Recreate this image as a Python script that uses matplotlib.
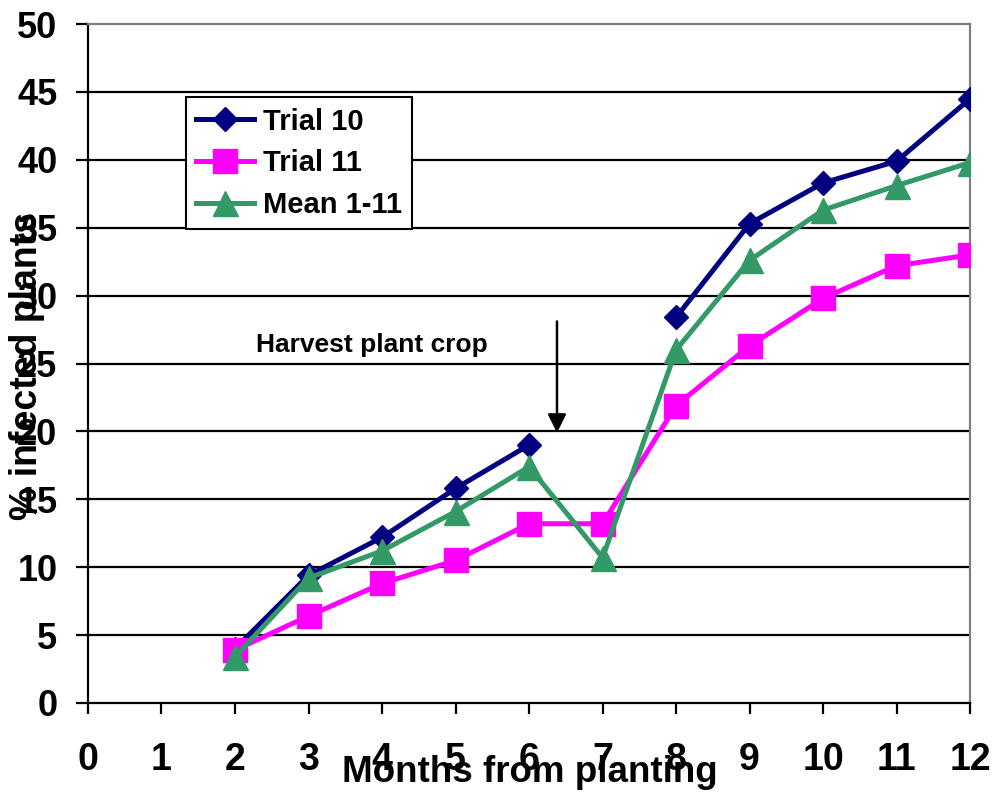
import numpy as np
import matplotlib
matplotlib.use('Agg')
import matplotlib.pyplot as plt

plt.rcParams['font.family'] = ['Liberation Sans', 'DejaVu Sans']
plt.rcParams['font.weight'] = 'bold'

# Data
months = [2, 3, 4, 5, 6, 7, 8, 9, 10, 11, 12]
trial_10 = [4.0, 9.4, 12.2, 15.8, 19.0, np.nan, 28.4, 35.3, 38.3, 39.9, 44.5]
trial_11 = [3.9, 6.4, 8.8, 10.5, 13.2, 13.2, 21.9, 26.3, 29.8, 32.2, 33.0]
mean_1_11 = [3.4, 9.2, 11.2, 14.1, 17.4, 10.7, 26.0, 32.6, 36.3, 38.1, 39.8]

x_ticks = list(range(0, 13))
y_ticks = list(range(0, 55, 5))

fig = plt.figure(figsize=(9.94, 7.93), dpi=100)
ax = fig.add_axes([0.0885, 0.1135, 0.8875, 0.8562])

# Grid
for y in y_ticks[1:-1]:
    ax.axhline(y, color='black', linewidth=1.6, zorder=1)

ax.plot(months, trial_10, color='#000080', linewidth=3.6, marker='D',
        markersize=12, label='Trial 10', zorder=3)
ax.plot(months, trial_11, color='#FF00FF', linewidth=3.6, marker='s',
        markersize=17, label='Trial 11', zorder=3)
ax.plot(months, mean_1_11, color='#339966', linewidth=3.6, marker='^',
        markersize=18, label='Mean 1-11', zorder=4)

# Annotation
ax.annotate('', xy=(6.38, 19.9), xytext=(6.38, 28.1),
            arrowprops=dict(arrowstyle='-|>', color='black', lw=1.8,
                            mutation_scale=28, shrinkA=0, shrinkB=0))
ax.text(2.29, 26.4, 'Harvest plant crop', fontsize=19, fontweight='bold',
        va='center', ha='left')

ax.set_xlim(0, 12)
ax.set_ylim(0, 50)
ax.set_xticks(x_ticks)
ax.set_yticks(y_ticks)
ax.tick_params(axis='y', direction='out', length=9, width=1.6,
               labelsize=26, pad=13)
ax.tick_params(axis='x', direction='out', length=8, width=1.6,
               labelsize=27, pad=20)
for lab in ax.get_xticklabels() + ax.get_yticklabels():
    lab.set_fontweight('bold')

for s in ['left', 'bottom']:
    ax.spines[s].set_color('black')
    ax.spines[s].set_linewidth(1.6)
for s in ['top', 'right']:
    ax.spines[s].set_color('#808080')
    ax.spines[s].set_linewidth(1.6)

leg = ax.legend(loc='upper left', bbox_to_anchor=(0.111, 0.892),
                borderaxespad=0, fancybox=False, edgecolor='black',
                fontsize=21, handlelength=2.0, handletextpad=0.3,
                labelspacing=0.47, borderpad=0.35, framealpha=1)
leg.get_frame().set_linewidth(1.5)
for t in leg.get_texts():
    t.set_fontweight('bold')

fig.text(530 / 994, 1 - 772 / 793, 'Months from planting', fontsize=26.5,
         fontweight='bold', ha='center', va='center')
fig.text(27 / 994, 1 - 366 / 793, '% infected plants', fontsize=27,
         fontweight='bold', ha='center', va='center', rotation=90)

fig.savefig('out.png', dpi=100)
